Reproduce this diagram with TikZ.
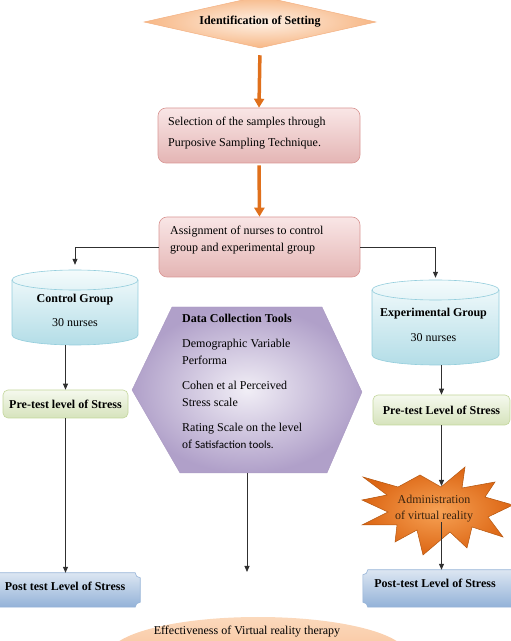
\documentclass[tikz,border=0pt]{standalone}
\usepackage{fontspec}
\setmainfont{Liberation Serif}
\newfontfamily\carlito{Carlito}
\usetikzlibrary{shapes.geometric,arrows.meta,calc}
\definecolor{diamin}{HTML}{FEF1E6}
\definecolor{diamout}{HTML}{F7B785}
\definecolor{diamedge}{HTML}{F4B183}
\definecolor{arrowor}{HTML}{E0701C}
\definecolor{pinktop}{HTML}{F9E6E6}
\definecolor{pinkbot}{HTML}{E4B5B4}
\definecolor{pinkedge}{HTML}{D99694}
\definecolor{cyltop}{HTML}{F4FBFC}
\definecolor{cylbot}{HTML}{B3DDE7}
\definecolor{cyledge}{HTML}{93CDDC}
\definecolor{hexlight}{HTML}{F1EEF6}
\definecolor{hexdark}{HTML}{B0A0C9}
\definecolor{hexedge}{HTML}{A796C0}
\definecolor{greentop}{HTML}{F5F9EE}
\definecolor{greenbot}{HTML}{D6E3BC}
\definecolor{greenedge}{HTML}{C3D69B}
\definecolor{bluetop}{HTML}{DCE6F2}
\definecolor{bluebot}{HTML}{93B2D8}
\definecolor{blueedge}{HTML}{95B3D7}
\definecolor{starin}{HTML}{F7A255}
\definecolor{starout}{HTML}{DC6614}
\definecolor{staredge}{HTML}{B4560F}
\definecolor{startext}{HTML}{3A2410}
\definecolor{efftop}{HTML}{FBD9BC}
\definecolor{effbot}{HTML}{F6B183}
\definecolor{linegray}{HTML}{303030}
\newcommand\cylshape[5]{%
  \path[top color=cyltop, bottom color=cylbot, draw=cyledge, line width=0.6pt]
    (#1-#3,#2) -- (#1-#3,#2-#4)
    arc[start angle=180,end angle=360,x radius=#3,y radius=#5]
    -- (#1+#3,#2)
    arc[start angle=0,end angle=180,x radius=#3,y radius=#5] -- cycle;
  \draw[cyledge, line width=0.6pt] (#1-#3,#2)
    arc[start angle=180,end angle=360,x radius=#3,y radius=#5];}
\newcommand\plaque[1]{%
  \path[top color=bluetop, bottom color=bluebot, draw=blueedge, line width=0.6pt]
    ([xshift=5pt]#1.north west) -- ([xshift=-5pt]#1.north east)
    arc[start angle=180,end angle=270,radius=5pt] -- ([yshift=5pt]#1.south east)
    arc[start angle=90,end angle=180,radius=5pt] -- ([xshift=5pt]#1.south west)
    arc[start angle=0,end angle=90,radius=5pt] -- ([yshift=-5pt]#1.north west)
    arc[start angle=270,end angle=360,radius=5pt] -- cycle;}
\begin{document}
\begin{tikzpicture}[x=1pt,y=1pt,
  font=\fontsize{12}{14}\selectfont,
  bold/.style={font=\fontsize{12}{14}\selectfont\bfseries},
  orarrow/.style={draw=arrowor, line width=3.5pt, -{Triangle[length=9pt,width=10pt]}},
  conn/.style={draw=linegray, line width=0.8pt, -{Triangle[length=6pt,width=5pt]}},
  pinkbox/.style={rectangle, rounded corners=8pt, draw=pinkedge, line width=0.6pt,
    top color=pinktop, bottom color=pinkbot},
  greenbox/.style={rectangle, rounded corners=5pt, draw=greenedge, line width=0.6pt,
    top color=greentop, bottom color=greenbot, bold, inner sep=0pt},
  txt/.style={inner sep=0pt, text=black}]
\clip (0,0) rectangle (511,641);

% top diamond
\node[diamond, aspect=4.4, minimum width=232pt, minimum height=52pt, inner sep=0pt,
  draw=diamedge, line width=0.5pt, shading=radial, inner color=diamin, outer color=diamout,
  bold] (diam) at (260,619) {Identification of Setting};

% selection box
\node[pinkbox, minimum width=202pt, minimum height=55pt] (box1) at (259,505.5) {};
\node[txt, anchor=north west, align=left, font=\fontsize{12}{21}\selectfont] (box1t)
  at (168,524.2) {Selection of the samples through\\Purposive Sampling Technique.};

% assignment box
\node[pinkbox, minimum width=201pt, minimum height=60pt] (box2) at (259.5,394) {};
\node[txt, anchor=north west, align=left, font=\fontsize{12}{17}\selectfont] (box2t)
  at (170,415.2) {Assignment of nurses to control\\group and experimental group};

% cylinders
\cylshape{75}{361}{63}{55}{10}
\node[minimum width=126pt, minimum height=75pt, inner sep=0pt] (cyl1) at (75,333.5) {};
\node[txt, anchor=base, bold] (cyl1a) at (75,338) {Control Group};
\node[txt, anchor=base] (cyl1b) at (75,314) {30 nurses};

\cylshape{435.5}{351}{63.5}{65}{10}
\node[minimum width=127pt, minimum height=85pt, inner sep=0pt] (cyl2) at (435.5,318.5) {};
\node[txt, anchor=base, bold] (cyl2a) at (433.5,324) {Experimental Group};
\node[txt, anchor=base] (cyl2b) at (433.5,299) {30 nurses};

% hexagon
\path[shading=radial, inner color=hexlight, outer color=hexdark,
  draw=hexedge, line width=0.3pt]
  (172,334) -- (322,334) -- (362,249) -- (327,168) -- (180,168) -- (132,251) -- cycle;
\coordinate (hexbot) at (247,168);
\coordinate (hexend) at (247,69);
\node[txt, anchor=north west, align=left, font=\fontsize{12}{17}\selectfont] (hext)
  at (182,327.2) {\textbf{Data Collection Tools}\\[8pt]
  Demographic Variable\\Performa\\[8pt]
  Cohen et al Perceived\\Stress scale\\[8pt]
  Rating Scale on the level\\of {\carlito\fontsize{11}{17}\selectfont Satisfaction tools.}};

% pre-test boxes
\node[greenbox, minimum width=125pt, minimum height=28pt] (pre1) at (65.5,237) {Pre-test level of Stress};
\node[greenbox, minimum width=137pt, minimum height=30pt] (pre2) at (441.5,231) {Pre-test Level of Stress};

% explosion
\path[shading=radial, inner color=starin, outer color=starout, draw=staredge, line width=0.5pt]
  (363,164) -- (398,154) -- (420,166) -- (441,154) -- (465,174) -- (462,153) -- (495,159)
  -- (485,144) -- (513,136) -- (488,124) -- (503,104) -- (472,114) -- (467,93)
  -- (450,109) -- (423,86) -- (417,111) -- (395,99) -- (397,116) -- (362,116)
  -- (388,129) -- (362,141) -- (387,146) -- cycle;
\coordinate (startop) at (441.5,155);
\node[txt, anchor=north, align=center, text=startext, font=\fontsize{12}{16}\selectfont] (admin)
  at (434,146.2) {Administration\\of virtual reality};

% post-test plaques
\node[minimum width=150pt, minimum height=34pt, inner sep=0pt] (post1) at (65,51) {};
\plaque{post1}
\node[txt, anchor=base, bold] (post1t) at (65,50) {Post test Level of Stress};
\node[minimum width=157pt, minimum height=37pt, inner sep=0pt] (post2) at (441.5,52.5) {};
\plaque{post2}
\node[txt, anchor=base, bold] (post2t) at (435,53) {Post-test Level of Stress};

% bottom ellipse
\node[ellipse, minimum width=298pt, minimum height=76pt, inner sep=0pt,
  top color=efftop, bottom color=effbot] (eff) at (258,-14) {};
\node[txt, anchor=base] (efft) at (247,6) {Effectiveness of Virtual reality therapy};

% connectors
\draw[orarrow, shorten <=7pt] (diam.south) -- (box1.north);
\draw[orarrow, shorten <=2pt] (box1.south) -- (box2.north);
\draw[conn, shorten >=5pt] (box2.west) -| (cyl1.north);
\draw[conn, shorten >=2pt] (box2.east) -| (cyl2.north);
\draw[conn] (pre1.north |- cyl1.south) -- (pre1.north);
\draw[conn] (pre1.south) -- (pre1.south |- post1.north);
\draw[conn] (hexbot) -- (hexend);
\draw[conn] (pre2.north |- cyl2.south) -- (pre2.north);
\draw[conn] (pre2.south) -- (startop);
\draw[conn] (admin.south -| post2.north) -- (post2.north);
\end{tikzpicture}
\end{document}
